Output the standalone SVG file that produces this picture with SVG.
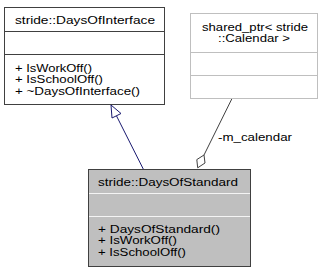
<svg xmlns="http://www.w3.org/2000/svg" width="324" height="275" viewBox="0 0 324 275">
  <style>
    text { font-family: "Liberation Sans", Arial, sans-serif; font-size: 10px; fill: #000000; }
    .box { stroke-width: 1; }
    .iface { fill: #ffffff; stroke: #404040; }
    .ext { fill: #ffffff; stroke: #bfbfbf; }
    .cur { fill: #bfbfbf; stroke: #404040; }
    .sep { stroke: #404040; stroke-width: 1; }
    .sep-ext { stroke: #bfbfbf; stroke-width: 1; }
    .sep-cur { stroke: #f4f4f4; stroke-width: 1; }
    .mid { text-anchor: middle; }
  </style>

  <!-- connectors -->
  <g id="connectors" fill="none">
    <!-- inheritance: DaysOfStandard -> DaysOfInterface -->
    <path d="M143.5,169.5 L116.4,115.7" stroke="#191970" stroke-width="1"/>
    <polygon points="111,105 121,113.5 112,118" fill="#ffffff" stroke="#191970" stroke-width="1"/>
    <!-- aggregation: m_calendar -->
    <path d="M232,98.5 L204,155" stroke="#404040" stroke-width="1"/>
    <polygon points="204,155 205,163 197.7,167.8 196.8,159.6" fill="#ffffff" stroke="#404040" stroke-width="1"/>
    <text x="218" y="141" textLength="74" lengthAdjust="spacingAndGlyphs">-m_calendar</text>
  </g>

  <!-- stride::DaysOfInterface -->
  <g id="DaysOfInterface">
    <rect class="box iface" x="4.5" y="7.5" width="160" height="97"/>
    <line class="sep" x1="4.5" y1="31.5" x2="164.5" y2="31.5"/>
    <line class="sep" x1="4.5" y1="54.5" x2="164.5" y2="54.5"/>
    <text x="15" y="23.5" textLength="140" lengthAdjust="spacingAndGlyphs">stride::DaysOfInterface</text>
    <text x="15" y="71.5" textLength="77" lengthAdjust="spacingAndGlyphs">+ IsWorkOff()</text>
    <text x="15" y="83" textLength="88" lengthAdjust="spacingAndGlyphs">+ IsSchoolOff()</text>
    <text x="15" y="94.5" textLength="125" lengthAdjust="spacingAndGlyphs">+ ~DaysOfInterface()</text>
  </g>

  <!-- shared_ptr< stride::Calendar > -->
  <g id="SharedPtrCalendar">
    <rect class="box ext" x="190.5" y="13.5" width="127" height="85"/>
    <line class="sep-ext" x1="190.5" y1="52.5" x2="317.5" y2="52.5"/>
    <line class="sep-ext" x1="190.5" y1="75.5" x2="317.5" y2="75.5"/>
    <text x="255" y="30.5" class="mid" textLength="106" lengthAdjust="spacingAndGlyphs">shared_ptr&lt; stride</text>
    <text x="254" y="42" class="mid" textLength="72" lengthAdjust="spacingAndGlyphs">::Calendar &gt;</text>
  </g>

  <!-- stride::DaysOfStandard -->
  <g id="DaysOfStandard">
    <rect class="box cur" x="88.5" y="169.5" width="162" height="97"/>
    <line class="sep-cur" x1="89" y1="193.5" x2="250" y2="193.5"/>
    <line class="sep-cur" x1="89" y1="216.5" x2="250" y2="216.5"/>
    <text x="98" y="185.5" textLength="140" lengthAdjust="spacingAndGlyphs">stride::DaysOfStandard</text>
    <text x="98" y="232.5" textLength="122" lengthAdjust="spacingAndGlyphs">+ DaysOfStandard()</text>
    <text x="98" y="244" textLength="79" lengthAdjust="spacingAndGlyphs">+ IsWorkOff()</text>
    <text x="98" y="255.5" textLength="88" lengthAdjust="spacingAndGlyphs">+ IsSchoolOff()</text>
  </g>
</svg>
